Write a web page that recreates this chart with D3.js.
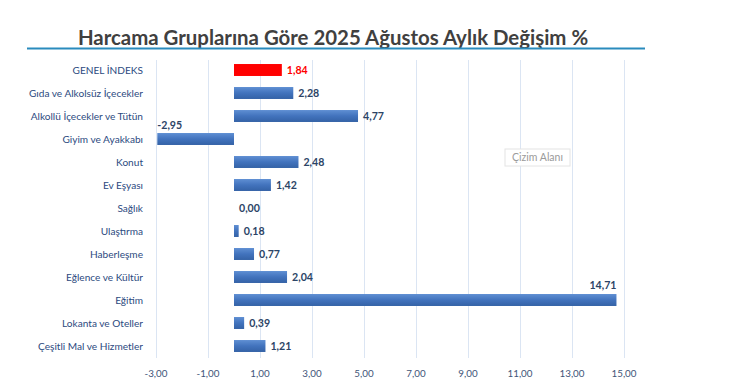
<!DOCTYPE html>
<html>
<head>
<meta charset="utf-8">
<script src="https://cdn.jsdelivr.net/npm/d3@7"></script>
<style>
  body { margin: 0; background: #fff; }
  svg { display: block; font-family: Lato, "Open Sans", sans-serif; }
</style>
</head>
<body>
<div id="chart"></div>
<script>
const w = 741;
const h = 386;

const title = "Harcama Gruplarına Göre 2025 Ağustos Aylık Değişim %";
const categories = ["GENEL İNDEKS", "Gıda ve Alkolsüz İçecekler", "Alkollü İçecekler ve Tütün",
  "Giyim ve Ayakkabı", "Konut", "Ev Eşyası", "Sağlık", "Ulaştırma", "Haberleşme",
  "Eğlence ve Kültür", "Eğitim", "Lokanta ve Oteller", "Çeşitli Mal ve Hizmetler"];
const values = [1.84, 2.28, 4.77, -2.95, 2.48, 1.42, 0.00, 0.18, 0.77, 2.04, 14.71, 0.39, 1.21];
const ticks = [-3, -1, 1, 3, 5, 7, 9, 11, 13, 15];

const fmt = (v) => v.toFixed(2).replace(".", ",");

const svg = d3.select("#chart").append("svg")
  .attr("width", w).attr("height", h);

const defs = svg.append("defs");
const grad = defs.append("linearGradient").attr("id", "barGrad")
  .attr("x1", 0).attr("y1", 0).attr("x2", 0).attr("y2", 1);
grad.append("stop").attr("offset", "0%").attr("stop-color", "#5f8fd3");
grad.append("stop").attr("offset", "50%").attr("stop-color", "#4273bd");
grad.append("stop").attr("offset", "100%").attr("stop-color", "#3462a6");

const x = d3.scaleLinear().domain([-3, 15]).range([156, 624]);
const y = d3.scaleBand().domain(categories).range([58.5, 357.5]).paddingInner(0.48).paddingOuter(0.24);

// title + rule under it
svg.append("text")
  .attr("x", 333).attr("y", 45)
  .attr("text-anchor", "middle")
  .attr("font-size", 20.4).attr("font-weight", "bold")
  .attr("fill", "#404040")
  .text(title);
svg.append("line")
  .attr("x1", 27).attr("x2", 645).attr("y1", 48.5).attr("y2", 48.5)
  .attr("stroke", "#2a8bbd").attr("stroke-width", 2);

// gridlines
svg.append("g").selectAll("line").data(ticks).enter().append("line")
  .attr("x1", (d) => x(d) + 0.5).attr("x2", (d) => x(d) + 0.5)
  .attr("y1", 60).attr("y2", 358)
  .attr("stroke", "#dbe5f3").attr("stroke-width", 1);

// tick labels
svg.append("g").selectAll("text").data(ticks).enter().append("text")
  .attr("x", (d) => x(d)).attr("y", 377)
  .attr("text-anchor", "middle")
  .attr("font-size", 9.8).attr("fill", "#3e5478")
  .text((d) => fmt(d));

// category labels
svg.append("g").selectAll("text").data(categories).enter().append("text")
  .attr("x", 143).attr("y", (d) => y(d) + y.bandwidth() / 2 + 3.5)
  .attr("text-anchor", "end")
  .attr("font-size", 10.1).attr("fill", "#2c4a80")
  .text((d) => d);

// bars
const rows = categories.map((c, i) => ({ cat: c, val: values[i], i: i }));
svg.append("g").selectAll("rect").data(rows).enter().append("rect")
  .attr("x", (d) => x(Math.min(0, d.val)))
  .attr("y", (d) => y(d.cat))
  .attr("width", (d) => Math.abs(x(d.val) - x(0)))
  .attr("height", y.bandwidth())
  .attr("fill", (d) => d.i === 0 ? "#ff0000" : "url(#barGrad)");

// value labels
const labelW = 26;
svg.append("g").selectAll("text").data(rows).enter().append("text")
  .attr("font-size", 10.6).attr("font-weight", "bold")
  .attr("fill", (d) => d.i === 0 ? "#ff0000" : "#2c4466")
  .each(function (d) {
    const t = d3.select(this);
    const cy = y(d.cat) + y.bandwidth() / 2;
    if (d.val < 0 && x(d.val) - 5 - labelW < x(-3)) {
      t.attr("x", x(d.val)).attr("y", y(d.cat) - 4).attr("text-anchor", "start");
    } else if (d.val > 0 && x(d.val) + 5 + labelW > x(15)) {
      t.attr("x", x(d.val)).attr("y", y(d.cat) - 5).attr("text-anchor", "end");
    } else if (d.val < 0) {
      t.attr("x", x(d.val) - 5).attr("y", cy + 3.5).attr("text-anchor", "end");
    } else {
      t.attr("x", x(d.val) + 5).attr("y", cy + 3.5).attr("text-anchor", "start");
    }
  })
  .text((d) => fmt(d.val));

// hover tooltip left in the screenshot
const tip = svg.append("g").attr("transform", "translate(505,149)");
tip.append("rect").attr("x", 0).attr("y", 0).attr("width", 65).attr("height", 17)
  .attr("fill", "#fff").attr("stroke", "#e4e4e4");
tip.append("text").attr("x", 32.5).attr("y", 12).attr("text-anchor", "middle")
  .attr("font-size", 10.5).attr("fill", "#9a9a9a").text("Çizim Alanı");
</script>
</body>
</html>
